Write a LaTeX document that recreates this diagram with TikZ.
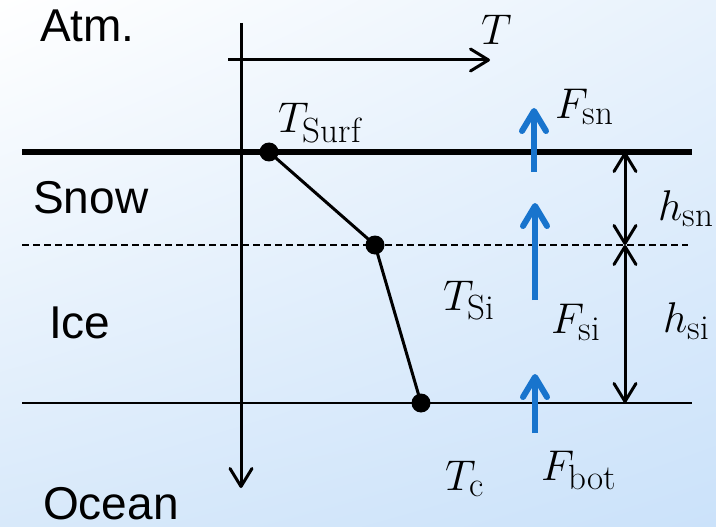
\RequirePackage{fix-cm}
\documentclass[tikz,border=0pt]{standalone}
\usepackage{fontspec}
\setsansfont{Liberation Sans}
\usetikzlibrary{arrows.meta,shadings}
\definecolor{bgTL}{RGB}{255,255,255}
\definecolor{bgTR}{RGB}{232,242,252}
\definecolor{bgBL}{RGB}{216,233,250}
\definecolor{bgBR}{RGB}{203,226,250}
\definecolor{fluxblue}{RGB}{24,116,205}
\newcommand{\lsubtxt}[1]{\mbox{\fontsize{35}{38}\selectfont #1}}
\begin{document}
\begin{tikzpicture}[x=1pt,y=-1pt,
  lbl/.style={inner sep=0pt,anchor=base west,font=\sffamily\fontsize{46}{50}\selectfont},
  mlbl/.style={inner sep=0pt,anchor=base west,font=\fontsize{43}{48}\selectfont},
  dot/.style={circle,fill=black,inner sep=0pt,minimum size=19pt},
  axisarrow/.style={line width=3pt,-{Straight Barb[length=18pt,width=22pt,line cap=round,line join=round]}},
  dimarrow/.style={line width=3pt,{Straight Barb[length=18pt,width=22pt,line cap=round,line join=round]}-{Straight Barb[length=18pt,width=22pt,line cap=round,line join=round]}},
  flux/.style={draw=fluxblue,line width=6pt,-{Straight Barb[length=20pt,width=24pt,line cap=round,line join=round]}},
  profile/.style={line width=3pt}
]
\useasboundingbox (0,0) rectangle (716,527);
\shade[upper left=bgTL,upper right=bgTR,lower left=bgBL,lower right=bgBR] (0,0) rectangle (716,527);

% layer lines
\coordinate (surfL) at (22,152); \coordinate (surfR) at (692,152);
\coordinate (dashL) at (22,245); \coordinate (dashR) at (688,245);
\coordinate (botL) at (22,403); \coordinate (botR) at (692,403);
\draw[line width=5.5pt] (surfL) -- (surfR);
\draw[line width=1.6pt,dash pattern=on 7pt off 4pt] (dashL) -- (dashR);
\draw[line width=1.8pt] (botL) -- (botR);

% axes
\coordinate (zTop) at (241,23); \coordinate (zBot) at (241,488);
\coordinate (tL) at (228,60); \coordinate (tR) at (490,60);
\draw[axisarrow] (zTop) -- (zBot);
\draw[axisarrow] (tL) -- (tR);

% temperature profile
\node[dot] (d1) at (269,152) {};
\node[dot] (d2) at (375,245) {};
\node[dot] (d3) at (421,403) {};
\draw[profile] (d1.center) -- (d2.center) -- (d3.center);

% fluxes
\coordinate (f1a) at (534,172); \coordinate (f1b) at (534,108);
\coordinate (f2a) at (535,300); \coordinate (f2b) at (535,203);
\coordinate (f3a) at (535,433); \coordinate (f3b) at (535,374);
\draw[flux] (f1a) -- (f1b);
\draw[flux] (f2a) -- (f2b);
\draw[flux] (f3a) -- (f3b);

% thickness arrows
\coordinate (h1) at (625,152); \coordinate (h2) at (625,245); \coordinate (h3) at (625,403);
\draw[dimarrow] (h1) -- (h2);
\draw[dimarrow] (h2) -- (h3);

% labels
\node[lbl] (atm) at (40,42) {Atm.};
\node[lbl] (snow) at (33,213) {Snow};
\node[lbl] (ice) at (49,338) {Ice};
\node[lbl] (ocean) at (43,519) {Ocean};

\node[mlbl] (lT) at (481,45) {$T$};
\node[mlbl] (lTsurf) at (278,133) {$T_{\lsubtxt{Surf}}$};
\node[mlbl] (lTsi) at (443,310) {$T_{\lsubtxt{Si}}$};
\node[mlbl] (lTc) at (445,490) {$T_{\lsubtxt{c}}$};
\node[mlbl] (lFsn) at (555,118) {$F_{\lsubtxt{sn}}$};
\node[mlbl] (lFsi) at (551,333) {$F_{\lsubtxt{si}}$};
\node[mlbl] (lFbot) at (541,480) {$F_{\lsubtxt{bot}}$};
\node[mlbl] (lhsn) at (658,220) {$h_{\lsubtxt{sn}}$};
\node[mlbl] (lhsi) at (663,332) {$h_{\lsubtxt{si}}$};
\end{tikzpicture}
\end{document}
